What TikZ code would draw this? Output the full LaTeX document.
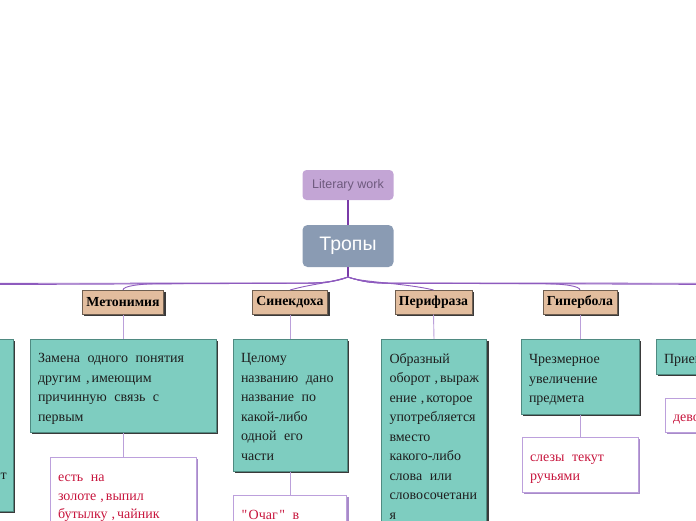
\documentclass[tikz,border=0pt]{standalone}
\usepackage{fontspec}
\setmainfont{Liberation Serif}[Ligatures=TeXOff]
\newfontfamily\sansf{Liberation Sans}
\usetikzlibrary{calc}
\definecolor{litfill}{HTML}{C3A5D5}
\definecolor{littext}{HTML}{6E5A7E}
\definecolor{tropfill}{HTML}{8A9BB3}
\definecolor{tanfill}{HTML}{E2BD9E}
\definecolor{tanborder}{HTML}{6E5E50}
\definecolor{tealfill}{HTML}{7ECDC0}
\definecolor{tealborder}{HTML}{4F8A81}
\definecolor{shadowgray}{HTML}{3A3A3A}
\definecolor{crimson}{HTML}{C8153D}
\definecolor{exborder}{HTML}{BCA0DC}
\definecolor{exshadow}{HTML}{A88BC9}
\definecolor{thinline}{HTML}{BBA0DA}
\definecolor{bundlecol}{HTML}{8E5BBE}
\definecolor{rootcol}{HTML}{7A3BA8}
\definecolor{deftext}{HTML}{1E1E1E}
\newcommand\deffont{\fontsize{14}{19.5}\selectfont}
\newcommand\exfont{\fontsize{14}{18.5}\selectfont}
\newcommand\sbph{\spaceskip=7.5pt plus 1pt\relax\rule{0pt}{15.5pt}}
\newcommand\ebph{\vphantom{р}}
\begin{document}
\begin{tikzpicture}[x=1pt,y=-1pt,
  shadowed/.style={preaction={fill=#1, transform canvas={xshift=2pt,yshift=-2pt}}},
  topbox/.style={fill=litfill, rounded corners=4pt, text=littext,
    font=\sansf\fontsize{12.5}{14}\selectfont, minimum width=91pt, minimum height=30pt, inner sep=0pt},
  rootbox/.style={fill=tropfill, rounded corners=5pt, text=white,
    font=\sansf\fontsize{19.5}{21}\selectfont, minimum width=91pt, minimum height=42pt, inner sep=0pt},
  labelbox/.style={shadowed=shadowgray, fill=tanfill, draw=tanborder, line width=0.5pt,
    font=\bfseries\fontsize{13.8}{15}\selectfont, minimum height=24pt,
    inner xsep=4pt, inner ysep=0pt, anchor=north},
  defbox/.style={shadowed=shadowgray, fill=tealfill, draw=tealborder, line width=0.5pt,
    text=deftext, align=left, anchor=north, inner xsep=8pt, inner ysep=0pt, font=\deffont},
  exbox/.style={shadowed=exshadow, fill=white, draw=exborder, line width=0.8pt,
    text=crimson, align=left, anchor=north, inner xsep=8pt, inner ysep=0pt, font=\exfont},
  thinconn/.style={draw=thinline, line width=0.9pt},
  bundle/.style={draw=bundlecol, line width=0.9pt},
  rootline/.style={draw=rootcol, line width=1.2pt}]
\useasboundingbox (0,0) rectangle (696,520);
\clip (0,0) rectangle (696,520);

% top
\node[topbox] (lit) at (348,185) {Literary work};
\node[rootbox] (tropy) at (348,246) {Тропы};
\coordinate (br) at (348,277);
\draw[rootline] (lit.south) -- (tropy.north);
\draw[rootline] (tropy.south) -- (br);

% off-canvas branch ends
\coordinate (lfl) at (-60,284.8);
\coordinate (lfl2) at (-60,283.4);
\coordinate (rtl) at (760,284.6);
\coordinate (rtl2) at (760,283.3);

% labels
\node[labelbox] (metl) at (123,290) {Метонимия};
\node[labelbox] (sinl) at (290,290) {Синекдоха};
\node[labelbox] (perl) at (433.5,290) {Перифраза};
\node[labelbox] (gipl) at (580,290) {Гипербола};

% bundle connectors
\draw[bundle] (br) .. controls (333,282) and (323,283) .. (308,283.2) -- (lfl);
\draw[bundle] (br) .. controls (333,282) and (323,283) .. (308,283) -- (lfl2);
\draw[bundle] (br) .. controls (333,282) and (323,283) .. (308,283.2) -- (163,283.6)
  .. controls (140,283.6) and (123,286) .. (metl.north);
\draw[bundle] (br) .. controls (338,282) and (315,283) .. (sinl.north);
\draw[bundle] (br) .. controls (358,282) and (405,283) .. (perl.north);
\draw[bundle] (br) .. controls (363,282) and (373,283) .. (388,283.2) -- (540,283.6)
  .. controls (563,283.6) and (580,286) .. (gipl.north);
\draw[bundle] (br) .. controls (363,282) and (373,283) .. (388,283.2) -- (rtl);
\draw[bundle] (br) .. controls (363,282) and (373,283) .. (388,283) -- (rtl2);

% definition boxes
\node[defbox, text width=110pt, minimum height=172pt] (lfd) at (-50,339) {};
\node[font=\deffont, text=deftext, anchor=base east, inner sep=0pt] (lff) at (7,479) {т};
\node[defbox, text width=170pt, minimum height=93pt] (metd) at (123,339)
  {\sbph Замена одного понятия\\ другим\kern5pt,\kern2pt имеющим\\ причинную связь с\\ первым\ebph};
\node[defbox, text width=98pt, minimum height=132pt] (sind) at (290,339)
  {\sbph Целому\\ названию дано\\ название по\\ какой-либо\\ одной его\\ части\ebph};
\node[defbox, text width=89pt, minimum height=191pt] (perd) at (434,339)
  {\sbph Образный\\ оборот\kern4pt,\kern2pt выраж\\ ение\kern4pt,\kern2pt которое\\ употребляется\\ вместо\\ какого-либо\\ слова или\\ словосочетани\\ я\ebph};
\node[defbox, text width=102pt, minimum height=75pt] (gipd) at (580,339)
  {\sbph Чрезмерное\\ увеличение\\ предмета\ebph};
\node[defbox, text width=114pt, minimum height=35pt] (rtd) at (721,339) {\sbph Прием\ebph};

% example boxes
\node[exbox, text width=130pt, minimum height=73pt] (mete) at (123,457)
  {\sbph есть на\\ золоте\kern4pt,\kern2pt выпил\\ бутылку\kern4pt,\kern2pt чайник\ebph};
\node[exbox, text width=97pt, minimum height=36pt] (sine) at (290,495)
  {\sbph"\kern1.5pt Очаг\kern1.5pt" в\ebph};
\node[exbox, text width=100pt, minimum height=55pt] (gipe) at (580,437)
  {\sbph слезы текут\\ ручьями\ebph};
\node[exbox, text width=96pt, minimum height=34pt] (rte) at (721,398) {\sbph девочка\ebph};

% thin connectors
\draw[thinconn] (metl.south) -- (metd.north);
\draw[thinconn] (sinl.south) -- (sind.north);
\draw[thinconn] (perl.south) -- (perd.north);
\draw[thinconn] (gipl.south) -- (gipd.north);
\draw[thinconn] (metd.south) -- (mete.north);
\draw[thinconn] (sind.south) -- (sine.north);
\draw[thinconn] (gipd.south) -- (gipe.north);
\draw[thinconn] (rtd.south) -- (rte.north);
\end{tikzpicture}
\end{document}
